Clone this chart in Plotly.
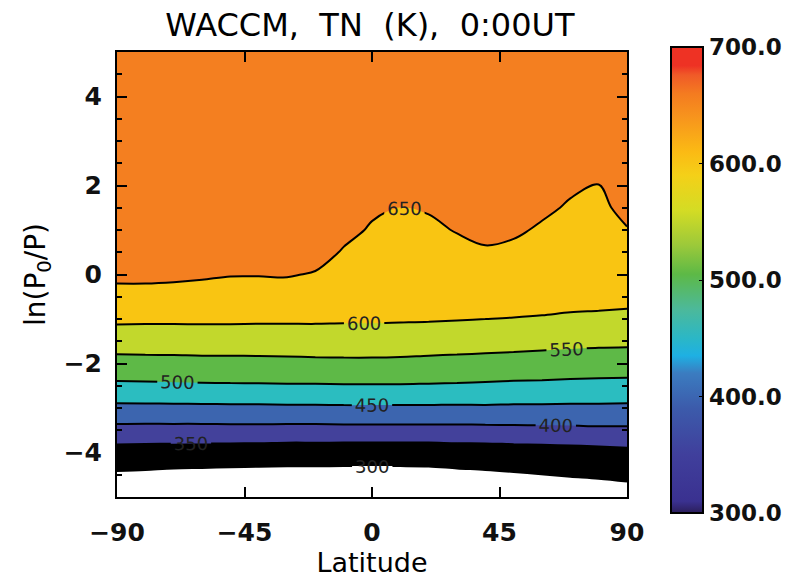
import plotly.graph_objects as go

# Latitude grid (degrees) and vertical coordinate ln(P0/P)
latitudes = [-90, -80, -70, -60, -50, -40, -30, -20, -10, 0, 10, 20, 30, 40, 50, 60, 70, 80, 90]
ln_p = [-5.0, -4.5, -4.0, -3.5, -3.0, -2.5, -2.0, -1.5, -1.0, -0.5, 0.0,
        0.5, 1.0, 1.5, 2.0, 2.5, 3.0, 3.5, 4.0, 4.5, 5.0]

# Neutral temperature TN (K); one list per latitude, bottom level first
tn_by_lat = [
    [255, 294, 330, 385, 439, 491, 534, 572, 609, 634, 661, 668, 672, 675, 677, 679, 681, 682, 683, 684, 685],
    [251, 292, 329, 384, 439, 492, 535, 573, 608, 634, 661, 668, 672, 675, 677, 679, 681, 682, 683, 684, 685],
    [246, 289, 328, 384, 440, 493, 536, 573, 608, 633, 659, 666, 671, 674, 676, 678, 680, 681, 682, 683, 684],
    [245, 288, 327, 384, 440, 494, 537, 574, 608, 631, 656, 663, 668, 672, 675, 677, 679, 680, 681, 682, 683],
    [243, 287, 326, 385, 441, 495, 537, 574, 608, 629, 652, 659, 665, 669, 672, 675, 677, 679, 680, 681, 682],
    [242, 286, 325, 385, 441, 495, 538, 574, 607, 628, 652, 659, 665, 669, 672, 675, 677, 679, 680, 681, 682],
    [243, 286, 323, 384, 442, 496, 539, 574, 607, 629, 653, 660, 665, 669, 672, 675, 677, 679, 680, 681, 682],
    [243, 286, 323, 384, 442, 496, 540, 575, 607, 626, 647, 666, 670, 673, 675, 677, 679, 680, 681, 682, 683],
    [244, 286, 322, 385, 443, 497, 541, 575, 606, 617.5, 632, 646.5, 661, 668, 672, 675, 677, 679, 680, 681, 682],
    [244, 286, 322, 385, 443, 497, 541, 575, 606, 613, 624, 635, 646, 656, 662, 667, 671, 674, 676, 678, 679],
    [244, 286, 322, 385, 443, 497, 540, 574, 605, 611, 621, 630, 640, 649.8, 659.5, 665, 669, 672, 674, 676, 677],
    [246, 287, 322, 385, 443, 496, 538, 572, 604, 612, 622, 632, 643, 653, 661, 666, 670, 673, 675, 677, 678],
    [250, 290, 325, 385, 442, 495, 536, 571, 602, 614, 626, 639, 652, 660, 665, 669, 672, 674, 676, 677, 678],
    [255, 293, 325, 386, 443, 493, 534, 569, 600, 615, 630, 645, 661, 666, 670, 673, 675, 677, 678, 679, 680],
    [259, 296, 328, 387, 442, 491, 532, 567, 599, 613, 627, 641, 656, 663, 667, 670, 673, 675, 676, 678, 679],
    [264, 299.5, 330, 388, 442, 490, 530, 564, 598, 610, 621, 633, 645, 657, 664, 668, 671, 673, 675, 676, 677],
    [268, 303, 332, 389, 441, 488, 528, 562, 597, 607, 617, 626, 636, 646, 655.5, 662, 666, 669, 671, 673, 674],
    [272, 306, 335, 391, 441, 487, 526, 560, 597, 605, 614, 623, 632, 641, 649.6, 658, 663, 666, 669, 671, 672],
    [277, 310, 339, 391, 440, 486, 525, 559, 594, 607, 621, 634, 648, 661, 666, 669, 672, 674, 675, 676, 677],
]

# Contour levels (K)
level_start, level_end, level_step = 300, 650, 50

# Fill colours: below 300, then each 50 K band up to >650
band_colors = ["#ffffff", "#000000", "#43419b", "#3c65af", "#2bbdc0",
               "#5eb947", "#c2d82c", "#f9c512", "#f47f20"]

# Colour bar scale 300-700 K
cbar_min, cbar_max = 300, 700
cbar_ticks = [300, 400, 500, 600, 700]
cbar_anchor_values = [300, 310, 350, 390, 420, 435, 450, 475, 505, 530, 560,
                      590, 610, 640, 660, 676, 684, 700]
cbar_anchor_colors = ["#2b1e5a", "#3a3190", "#403f9c", "#3c5bab", "#3b7cc0",
                      "#1eb0e3", "#2bb7c6", "#4cb99a", "#5db946", "#9cc93a",
                      "#d4dc24", "#f4d018", "#fbba14", "#f7941d", "#f47b20",
                      "#f05a28", "#ee3224", "#ee3224"]

x_ticks = [-90, -45, 0, 45, 90]

# Transpose to rows of constant ln(P0/P)
z_grid = [[col[k] for col in tn_by_lat] for k in range(len(ln_p))]

n_bands = len(band_colors) - 1
fill_scale = [[i / n_bands, c] for i, c in enumerate(band_colors)]
cbar_scale = [[(v - cbar_min) / (cbar_max - cbar_min), c]
              for v, c in zip(cbar_anchor_values, cbar_anchor_colors)]

font_family = "DejaVu Sans"
tick_font = dict(family=font_family, size=25, color="#111111", weight="bold")

fig = go.Figure()
fig.add_trace(go.Contour(
    x=latitudes, y=ln_p, z=z_grid,
    autocontour=False,
    contours=dict(start=level_start, end=level_end, size=level_step,
                  coloring="fill", showlabels=True,
                  labelfont=dict(family=font_family, size=18, color="#222222")),
    colorscale=fill_scale,
    line=dict(color="black", width=2, smoothing=1),
    showscale=False,
    hoverinfo="skip",
))

# Colour bar carried by an empty marker trace
fig.add_trace(go.Scatter(
    x=[None], y=[None], mode="markers", showlegend=False, hoverinfo="skip",
    marker=dict(color=[cbar_min], cmin=cbar_min, cmax=cbar_max,
                colorscale=cbar_scale, showscale=True,
                colorbar=dict(
                    x=1.086, xanchor="left", xpad=0,
                    y=0.4876, yanchor="middle", ypad=0,
                    len=1.047, lenmode="fraction",
                    thickness=32, thicknessmode="pixels",
                    outlinecolor="black", outlinewidth=2,
                    tickvals=cbar_ticks, tickformat=".1f",
                    ticks="inside", ticklen=5, tickcolor="black",
                    tickfont=dict(family=font_family, size=23, color="#111111", weight="bold"),
                )),
))

fig.update_layout(
    width=787, height=580,
    margin=dict(l=117, r=160, t=52, b=83, autoexpand=False),
    paper_bgcolor="white", plot_bgcolor="white",
    title=dict(text="WACCM,\u00a0 TN\u00a0 (K),\u00a0 0:00UT",
               x=0.47, xanchor="center", y=0.957, yanchor="middle",
               font=dict(family=font_family, size=32, color="black")),
    font=dict(family=font_family, color="black"),
)

fig.update_xaxes(
    range=[-90, 90], tickvals=x_ticks,
    ticks="inside", ticklen=10, tickwidth=2, tickcolor="black",
    showline=True, linewidth=2, linecolor="black", mirror="ticks",
    showgrid=False, zeroline=False,
    tickfont=tick_font,
    ticklabelstandoff=12,
    title=dict(text="Latitude", standoff=6,
               font=dict(family=font_family, size=27, color="black")),
)
fig.update_yaxes(
    range=[-5, 5], dtick=2, tick0=0,
    ticks="inside", ticklen=10, tickwidth=2, tickcolor="black",
    minor=dict(dtick=0.5, ticks="inside", ticklen=5, tickwidth=2, tickcolor="black"),
    showline=True, linewidth=2, linecolor="black", mirror="allticks",
    showgrid=False, zeroline=False,
    tickfont=tick_font,
    ticklabelstandoff=8,
    title=dict(text="ln(P<sub>0</sub>/P)", standoff=10,
               font=dict(family=font_family, size=28, color="black")),
)

fig.write_html("out.html")
